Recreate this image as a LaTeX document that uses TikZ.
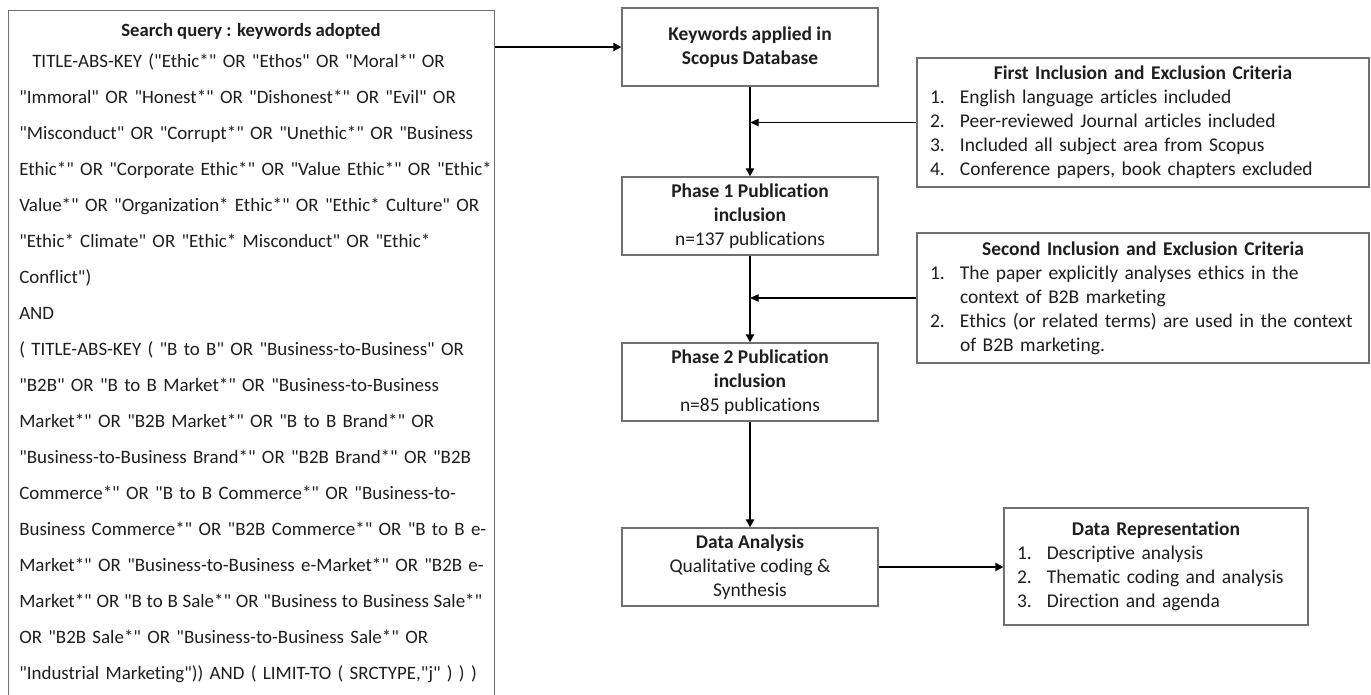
\documentclass[tikz,border=0pt]{standalone}
\usepackage{fontspec}
\setmainfont{Carlito}[Ligatures={TeXOff,CommonOff}]
\usetikzlibrary{arrows.meta}
\definecolor{boxgray}{HTML}{707070}
\definecolor{txt}{HTML}{1E1E1E}
\newcommand\J[1]{\makebox[\linewidth][s]{#1}}
\newcommand\JT[1]{\makebox[\linewidth][s]{\spaceskip=0.12em plus 1em\relax #1}}
\newcommand\itemno[1]{\makebox[22.5pt][l]{#1}}
\newcommand\qfont{\fontsize{14.2}{27}\selectfont}
\newcommand\bfont{\fontsize{14.6}{18}\selectfont}
\begin{document}
\begin{tikzpicture}[x=0.75pt,y=-0.75pt,
  box/.style={draw=boxgray, line width=0.9pt, text=txt, inner sep=0pt},
  flowbox/.style={box, minimum width=192pt, minimum height=58.5pt, align=center, font=\bfont},
  critbox/.style={box, inner xsep=9.75pt, align=left, font=\bfont},
  thickarrow/.style={line width=1.6pt, -{Triangle[length=6pt,width=6pt]}},
  thinarrow/.style={line width=0.9pt, -{Triangle[length=6.5pt,width=5.5pt]}}
]
\useasboundingbox (0,0) rectangle (1371,695);
\fill[white] (0,0) rectangle (1371,695);

% search query box
\node[box, anchor=north west, minimum width=364.5pt, minimum height=517pt] (query) at (8,10) {};
\node[anchor=base, inner sep=0pt, text=txt, font=\fontsize{14}{27}\selectfont\bfseries] (qtitle) at (251,37) {Search query : keywords adopted};
\node[anchor=base west, inner sep=0pt, text=txt, text width=347.25pt, align=left, font=\qfont] (qbody) at (19,68) {%
\J{\hspace*{9.75pt}TITLE-ABS-KEY ("Ethic*" OR "Ethos" OR "Moral*" OR}\\
\J{"Immoral" OR "Honest*" OR "Dishonest*" OR "Evil" OR}\\
\J{"Misconduct" OR "Corrupt*" OR "Unethic*" OR "Business}\\
\J{Ethic*" OR "Corporate Ethic*" OR "Value Ethic*" OR "Ethic*}\\
\J{Value*" OR "Organization* Ethic*" OR "Ethic* Culture" OR}\\
\J{"Ethic* Climate" OR "Ethic* Misconduct" OR "Ethic*}\\
Conflict")\\
AND\\
\J{( TITLE-ABS-KEY ( "B to B" OR "Business-to-Business" OR}\\
\J{"B2B" OR "B to B Market*" OR "Business-to-Business}\\
\J{Market*" OR "B2B Market*" OR "B to B Brand*" OR}\\
\J{"Business-to-Business Brand*" OR "B2B Brand*" OR "B2B}\\
\J{Commerce*" OR "B to B Commerce*" OR "Business-to-}\\
\J{Business Commerce*" OR "B2B Commerce*" OR "B to B e-}\\
\J{Market*" OR "Business-to-Business e-Market*" OR "B2B e-}\\
\JT{Market*" OR "B to B Sale*" OR "Business to Business Sale*"}\\
\J{OR "B2B Sale*" OR "Business-to-Business Sale*" OR}\\
"Industrial Marketing")) AND ( LIMIT-TO ( SRCTYPE,"j" ) ) )};

% flow boxes
\node[flowbox, font=\bfont\bfseries] (kw) at (750,47) {Keywords applied in\\Scopus Database};
\node[flowbox] (p1) at (750,216) {\textbf{Phase 1 Publication}\\\textbf{inclusion}\\n=137 publications};
\node[flowbox] (p2) at (750,382) {\textbf{Phase 2 Publication}\\\textbf{inclusion}\\n=85 publications};
\node[flowbox] (da) at (750,567) {\textbf{Data Analysis}\\Qualitative coding \&\\Synthesis};

% criteria boxes
\node[critbox, text width=319.5pt, minimum height=96.75pt] (c1) at (1143,122.5) {%
\makebox[\linewidth]{\bfseries First Inclusion and Exclusion Criteria}\\
\itemno{1.}English language articles included\\
\itemno{2.}Peer-reviewed Journal articles included\\
\itemno{3.}Included all subject area from Scopus\\
\itemno{4.}Conference papers, book chapters excluded};
\node[critbox, text width=319.5pt, minimum height=97.5pt] (c2) at (1143,298) {%
\makebox[\linewidth]{\bfseries Second Inclusion and Exclusion Criteria}\\
\itemno{1.}The paper explicitly analyses ethics in the\\
\itemno{}context of B2B marketing\\
\itemno{2.}Ethics (or related terms) are used in the context\\
\itemno{}of B2B marketing.};
\node[critbox, text width=208.5pt, minimum height=87.75pt] (dr) at (1156,566.5) {%
\makebox[\linewidth]{\bfseries Data Representation}\\
\itemno{1.}Descriptive analysis\\
\itemno{2.}Thematic coding and analysis\\
\itemno{3.}Direction and agenda};

% connectors
\coordinate (j1) at (kw.south |- c1.west);
\coordinate (j2) at (kw.south |- c2.west);
\draw[thickarrow] (query.east |- kw.west) -- (kw.west);
\draw[thickarrow] (kw.south) -- (p1.north);
\draw[thickarrow] (p1.south) -- (p2.north);
\draw[thickarrow] (p2.south) -- (da.north);
\draw[thickarrow] (da.east) -- (da.east -| dr.west);
\draw[thinarrow] (c1.west) -- (j1);
\draw[thinarrow] (c2.west) -- (j2);
\end{tikzpicture}
\end{document}
